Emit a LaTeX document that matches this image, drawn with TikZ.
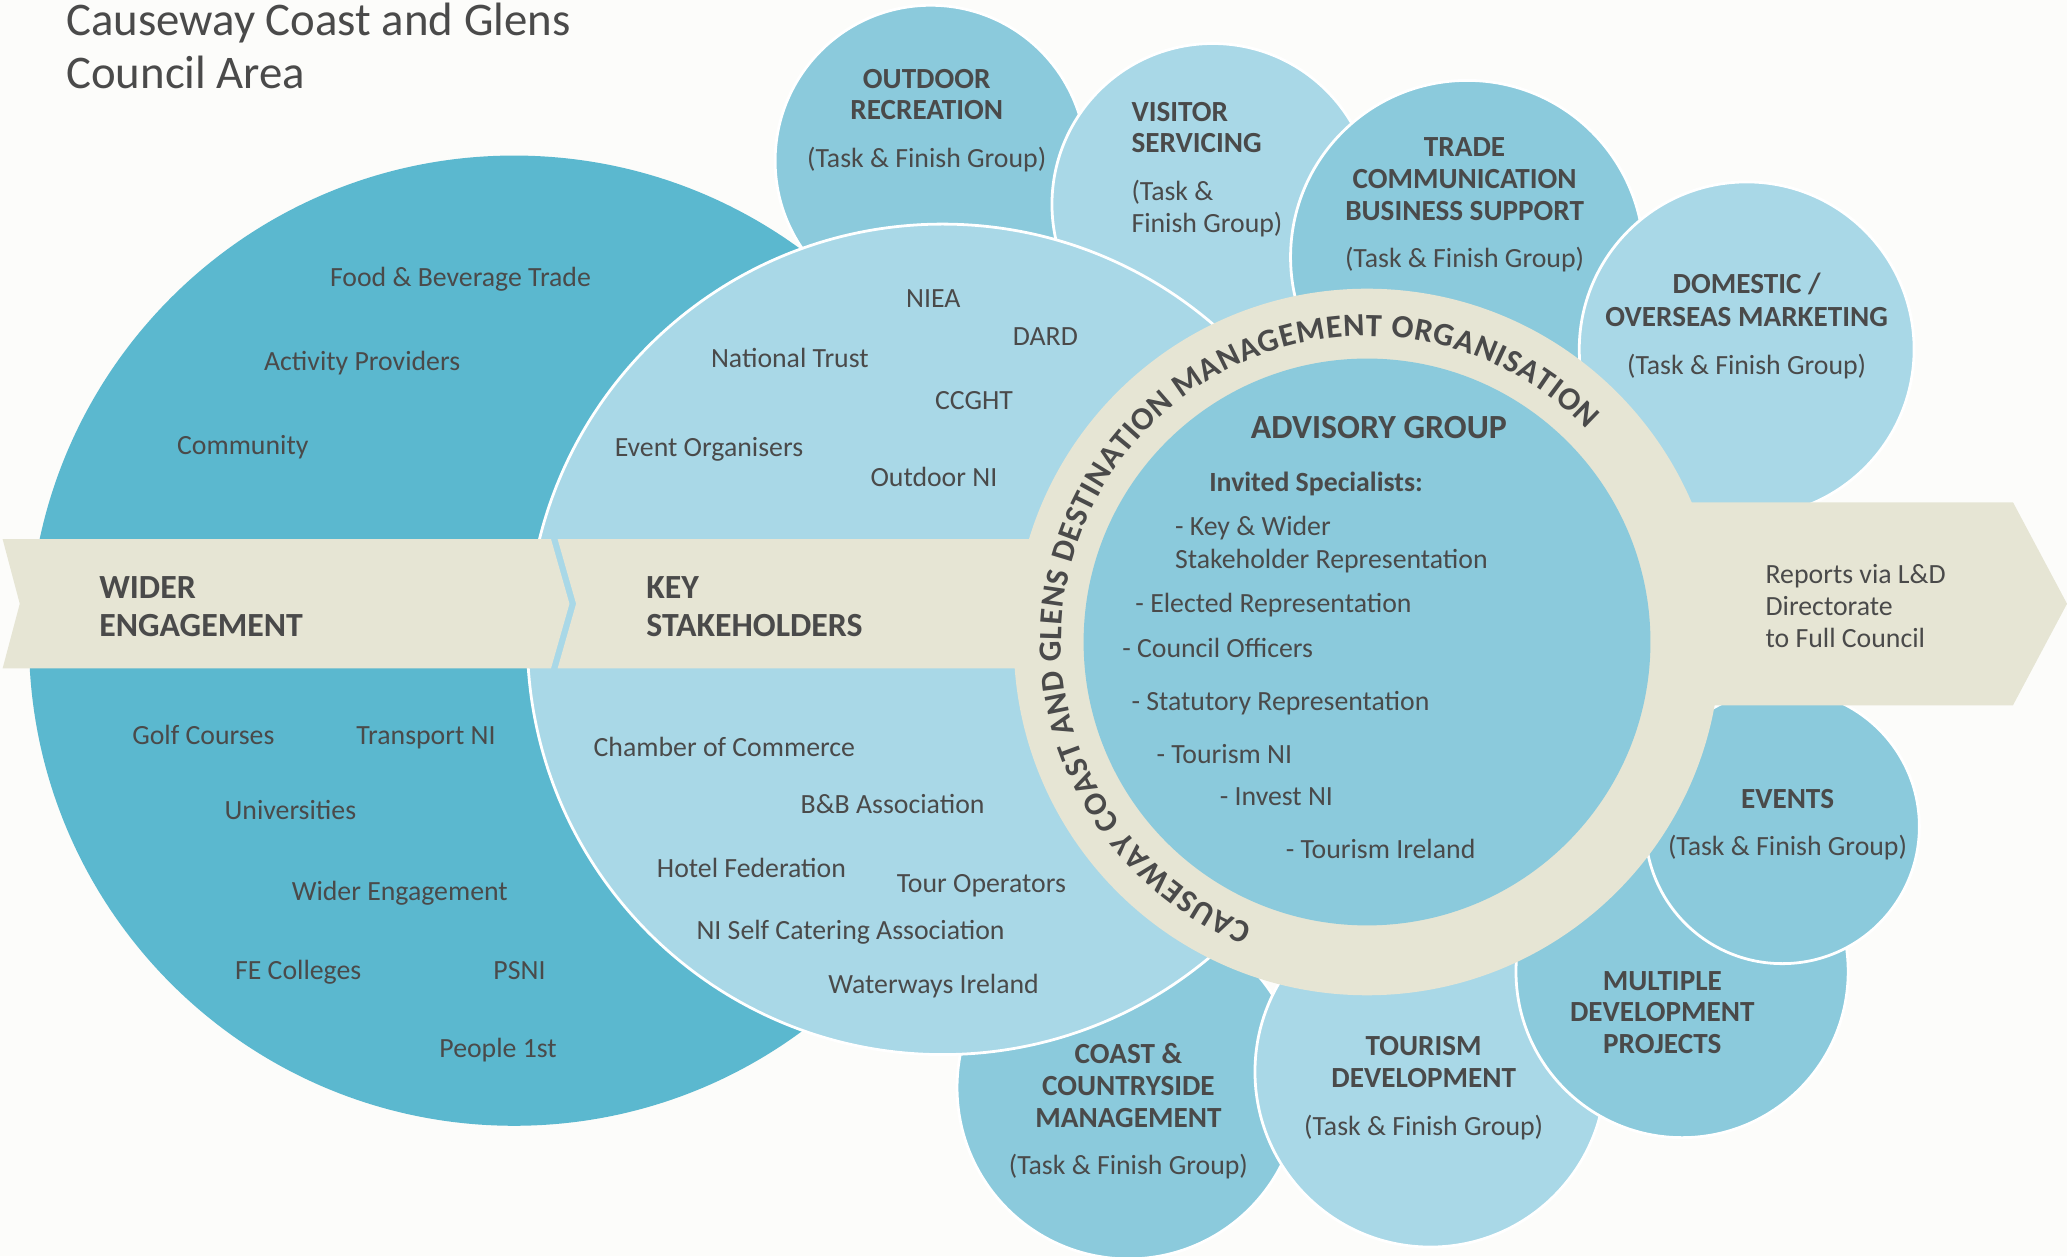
\documentclass[tikz,border=0pt]{standalone}
\usepackage{fontspec}
\setmainfont{Carlito}
\usetikzlibrary{decorations.text}
\definecolor{bg}{RGB}{252,252,250}
\definecolor{dark}{RGB}{91,184,207}
\definecolor{mid}{RGB}{139,202,220}
\definecolor{light}{RGB}{169,216,231}
\definecolor{beige}{RGB}{230,229,212}
\definecolor{txt}{RGB}{74,74,74}
\begin{document}
\begin{tikzpicture}[x=0.02cm, y=-0.02cm,
  body/.style={font=\fontsize{12}{14}\selectfont, text=txt, inner sep=0pt},
  head/.style={font=\bfseries\fontsize{12.6}{14}\selectfont, text=txt, inner sep=0pt},
  bandlbl/.style={font=\bfseries\fontsize{14.6}{17}\selectfont, text=txt, inner sep=0pt},
  titlefont/.style={font=\fontsize{20.2}{24}\selectfont, text=txt, inner sep=0pt},
  bubble/.style={draw=white, line width=1.2pt}]
\useasboundingbox (0,0) rectangle (1568,953);
\fill[bg] (0,0) rectangle (1568,953);

% wider engagement circle
\fill[dark] (390,486) circle[radius=368];

% top bubbles
\path[bubble, fill=mid]   (706,122)  circle[radius=118];
\path[bubble, fill=light] (920,155)  circle[radius=122];
\path[bubble, fill=mid]   (1113,195) circle[radius=134];
\path[bubble, fill=light] (1325,265) circle[radius=127];
% bottom bubbles
\path[bubble, fill=mid]   (856,825)  circle[radius=130];
\path[bubble, fill=light] (1085,813) circle[radius=133];
\path[bubble, fill=mid]   (1276,737) circle[radius=126];
\path[bubble, fill=mid]   (1352,627) circle[radius=104];

% key stakeholders circle
\path[bubble, fill=light] (715,485) circle[radius=315];

% bands
\fill[beige] (2,409) -- (418,409) -- (432,458) -- (418,507) -- (2,507) -- (15,458) -- cycle;
\fill[beige] (423,409) -- (800,409) -- (800,507) -- (423,507) -- (437,458) -- cycle;
\fill[beige] (1200,381) -- (1527,381) -- (1568,458) -- (1527,535) -- (1200,535) -- cycle;

% ring
\fill[beige] (1037,487) circle[radius=268];
\fill[mid] (1037,487) circle[radius=215];
\begin{scope}[y=0.02cm]
\path[decorate, decoration={text along path,
  text={|\color{txt}\bfseries\fontsize{14}{16}\selectfont|CAUSEWAY COAST AND GLENS DESTINATION MANAGEMENT ORGANISATION},
  text align={fit to path}}]
  (1037,-487) ++(248:232) arc[start angle=248, end angle=44, radius=232];
\end{scope}

% title
\node[titlefont, anchor=base west] (title1) at (50,27) {Causeway Coast and Glens};
\node[titlefont, anchor=base west] (title2) at (50,67) {Council Area};

% wider engagement texts
\node[body, anchor=base west] (w1) at (250,217) {Food \& Beverage Trade};
\node[body, anchor=base west] (w2) at (200,281) {Activity Providers};
\node[body, anchor=base west] (w3) at (134,345) {Community};
\node[body, anchor=base west] (w4) at (100,565) {Golf Courses};
\node[body, anchor=base west] (w5) at (270,565) {Transport NI};
\node[body, anchor=base west] (w6) at (170,622) {Universities};
\node[body, anchor=base west] (w7) at (221,683) {Wider Engagement};
\node[body, anchor=base west] (w8) at (178,743) {FE Colleges};
\node[body, anchor=base west] (w9) at (374,743) {PSNI};
\node[body, anchor=base west] (w10) at (333,802) {People 1st};

% key stakeholder texts
\node[body, anchor=base west] (k1) at (687,233) {NIEA};
\node[body, anchor=base west] (k2) at (768,262) {DARD};
\node[body, anchor=base west] (k3) at (539,279) {National Trust};
\node[body, anchor=base west] (k4) at (709,311) {CCGHT};
\node[body, anchor=base west] (k5) at (466,346) {Event Organisers};
\node[body, anchor=base west] (k6) at (660,369) {Outdoor NI};
\node[body, anchor=base west] (k7) at (450,574) {Chamber of Commerce};
\node[body, anchor=base west] (k8) at (607,617) {B\&B Association};
\node[body, anchor=base west] (k9) at (498,666) {Hotel Federation};
\node[body, anchor=base west] (k10) at (680,677) {Tour Operators};
\node[body, anchor=base west] (k11) at (528,713) {NI Self Catering Association};
\node[body, anchor=base west] (k12) at (628,754) {Waterways Ireland};

% band labels
\node[bandlbl, anchor=base west] (b1) at (75,454) {WIDER};
\node[bandlbl, anchor=base west] (b2) at (75,483) {ENGAGEMENT};
\node[bandlbl, anchor=base west] (b3) at (490,454) {KEY};
\node[bandlbl, anchor=base west] (b4) at (490,483) {STAKEHOLDERS};

% bubble texts
\node[head, anchor=base] (o1) at (703,67) {OUTDOOR};
\node[head, anchor=base] (o2) at (703,91) {RECREATION};
\node[body, anchor=base] (o3) at (703,127) {(Task \& Finish Group)};

\node[head, anchor=base west] (v1) at (858,92) {VISITOR};
\node[head, anchor=base west] (v2) at (858,116) {SERVICING};
\node[body, anchor=base west] (v3) at (858,152) {(Task \&};
\node[body, anchor=base west] (v4) at (858,176) {Finish Group)};

\node[head, anchor=base] (tr1) at (1111,119) {TRADE};
\node[head, anchor=base] (tr2) at (1111,143) {COMMUNICATION};
\node[head, anchor=base] (tr3) at (1111,167) {BUSINESS SUPPORT};
\node[body, anchor=base] (tr4) at (1111,203) {(Task \& Finish Group)};

\node[head, anchor=base] (d1) at (1325,223) {DOMESTIC /};
\node[head, anchor=base] (d2) at (1325,248) {OVERSEAS MARKETING};
\node[body, anchor=base] (d3) at (1325,284) {(Task \& Finish Group)};

\node[head, anchor=base] (e1) at (1356,613) {EVENTS};
\node[body, anchor=base] (e2) at (1356,649) {(Task \& Finish Group)};

\node[head, anchor=base] (m1) at (1261,751) {MULTIPLE};
\node[head, anchor=base] (m2) at (1261,775) {DEVELOPMENT};
\node[head, anchor=base] (m3) at (1261,799) {PROJECTS};

\node[head, anchor=base] (td1) at (1080,801) {TOURISM};
\node[head, anchor=base] (td2) at (1080,825) {DEVELOPMENT};
\node[body, anchor=base] (td3) at (1080,861) {(Task \& Finish Group)};

\node[head, anchor=base] (c1) at (856,807) {COAST \&};
\node[head, anchor=base] (c2) at (856,831) {COUNTRYSIDE};
\node[head, anchor=base] (c3) at (856,855) {MANAGEMENT};
\node[body, anchor=base] (c4) at (856,891) {(Task \& Finish Group)};

% advisory group
\node[bandlbl, anchor=base] (a0) at (1046,333) {ADVISORY GROUP};
\node[body, font=\bfseries\fontsize{12}{14}\selectfont, anchor=base west] (a1) at (917,373) {Invited Specialists:};
\node[body, anchor=base west] (a2) at (891,406) {- Key \& Wider};
\node[body, anchor=base west] (a3) at (891,431) {Stakeholder Representation};
\node[body, anchor=base west] (a4) at (861,465) {- Elected Representation};
\node[body, anchor=base west] (a5) at (851,499) {- Council Officers};
\node[body, anchor=base west] (a6) at (858,539) {- Statutory Representation};
\node[body, anchor=base west] (a7) at (877,579) {- Tourism NI};
\node[body, anchor=base west] (a8) at (925,611) {- Invest NI};
\node[body, anchor=base west] (a9) at (975,651) {- Tourism Ireland};

% reports arrow
\node[body, anchor=base west] (r1) at (1339,443) {Reports via L\&D};
\node[body, anchor=base west] (r2) at (1339,467) {Directorate};
\node[body, anchor=base west] (r3) at (1339,491) {to Full Council};
\end{tikzpicture}
\end{document}
